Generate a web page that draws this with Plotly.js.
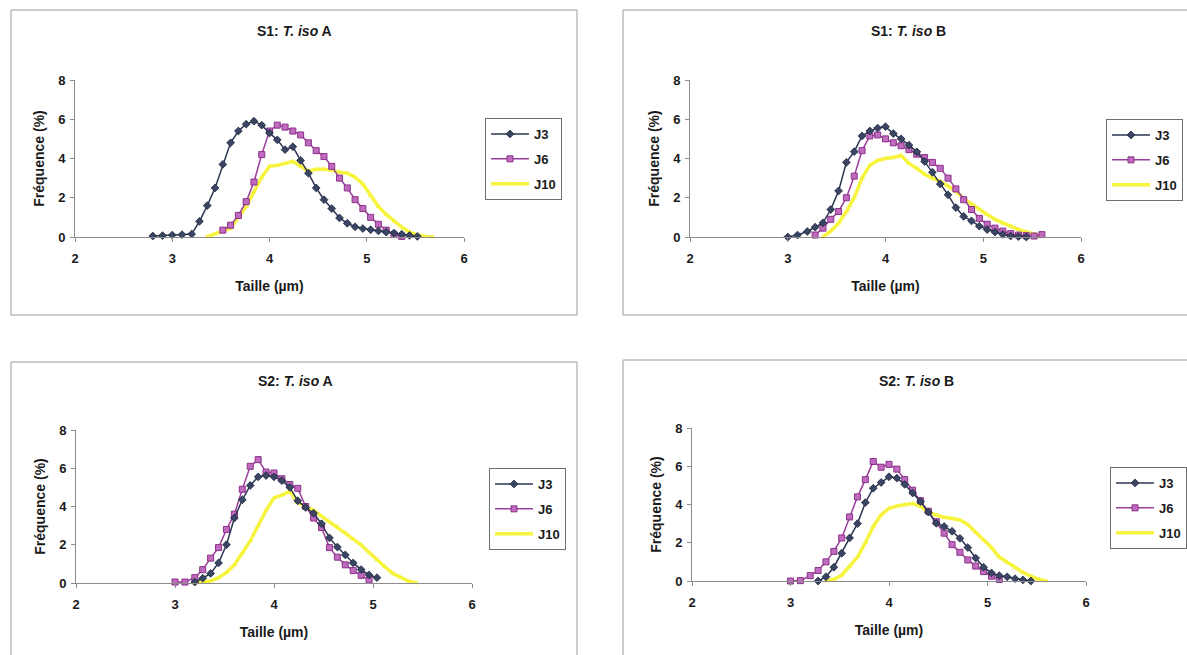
<!DOCTYPE html>
<html>
<head>
<meta charset="utf-8">
<script src="https://cdn.plot.ly/plotly-3.0.1.min.js"></script>
<style>
  html, body { margin: 0; padding: 0; background: #ffffff; }
  #chart { width: 1187px; height: 655px; }
</style>
</head>
<body>
<div id="chart"></div>
<script>
// ---- Data (size classes in µm, frequency in %) ----
const taille = [2.80, 2.90, 3.00, 3.10, 3.20, 3.28, 3.36, 3.44, 3.52, 3.60, 3.68, 3.76,
                3.84, 3.92, 4.00, 4.08, 4.16, 4.24, 4.32, 4.40, 4.48, 4.56, 4.64, 4.72,
                4.80, 4.88, 4.96, 5.04, 5.12, 5.20, 5.28, 5.36, 5.44, 5.52, 5.60, 5.68];

const seriesNames = ["J3", "J6", "J10"];
const panelTitles = ["S1: <i>T. iso</i> A", "S1: <i>T. iso</i> B", "S2: <i>T. iso</i> A", "S2: <i>T. iso</i> B"];
const xTitle = "Taille (µm)";
const yTitle = "Fréquence (%)";

// S1: T. iso A
const s1A_J3  = [0.05,0.07,0.10,0.12,0.15,0.80,1.60,2.50,3.70,4.80,5.40,5.75,5.90,5.70,5.30,4.95,4.45,4.60,3.90,3.25,2.50,1.90,1.45,0.97,0.70,0.52,0.43,0.37,0.31,0.25,0.20,0.14,0.08,0.03,null,null];
const s1A_J6  = [null,null,null,null,null,null,null,null,0.35,0.60,1.10,1.80,2.80,4.20,5.40,5.70,5.60,5.40,5.20,4.80,4.40,4.10,3.60,3.00,2.50,1.90,1.45,1.00,0.65,0.35,0.12,0.03,null,null,null,null];
const s1A_J10 = [null,null,null,null,null,null,0.02,0.15,0.30,0.45,1.00,1.55,2.30,3.05,3.60,3.65,3.75,3.85,3.60,3.35,3.45,3.45,3.40,3.30,3.25,3.05,2.70,2.10,1.55,1.15,0.80,0.50,0.25,0.10,0.03,0.00];

// S1: T. iso B
const s1B_J3  = [null,null,0.00,0.10,0.28,0.50,0.72,1.40,2.35,3.80,4.35,5.15,5.40,5.55,5.62,5.27,5.00,4.68,4.34,3.85,3.30,2.70,2.15,1.50,1.05,0.82,0.55,0.38,0.25,0.13,0.05,0.02,0.00,null,null,null];
const s1B_J6  = [null,null,null,null,null,0.10,0.45,0.90,1.30,2.00,3.10,4.40,5.15,5.20,5.00,4.80,4.65,4.45,4.22,4.05,3.80,3.50,3.00,2.45,1.90,1.40,0.95,0.65,0.45,0.30,0.17,0.10,0.07,0.05,0.12,null];
const s1B_J10 = [null,null,null,null,null,null,0.00,0.30,0.70,1.30,2.00,3.00,3.65,3.90,4.00,4.05,4.15,3.75,3.50,3.20,3.00,2.83,2.60,2.32,1.96,1.68,1.40,1.15,0.90,0.70,0.55,0.38,0.25,0.15,0.05,null];

// S2: T. iso A
const s2A_J3  = [null,null,null,null,0.05,0.25,0.50,1.05,2.00,3.40,4.35,5.10,5.55,5.62,5.55,5.35,5.00,4.30,3.95,3.65,3.10,2.36,1.88,1.47,1.05,0.70,0.42,0.28,null,null,null,null,null,null,null,null];
const s2A_J6  = [null,null,0.05,0.05,0.28,0.70,1.30,1.85,2.80,3.60,4.90,6.10,6.45,5.80,5.75,5.45,5.15,4.95,4.00,3.40,2.90,1.85,1.35,0.95,0.65,0.40,0.15,null,null,null,null,null,null,null,null,null];
const s2A_J10 = [null,null,null,null,0.00,0.05,0.10,0.28,0.55,0.95,1.57,2.20,3.00,3.80,4.45,4.60,4.80,4.20,4.00,3.80,3.50,3.20,2.95,2.65,2.30,2.00,1.60,1.20,0.85,0.50,0.28,0.10,0.00,null,null,null];

// S2: T. iso B
const s2B_J3  = [null,null,null,null,null,0.00,0.22,0.72,1.45,2.25,3.00,4.10,4.85,5.15,5.45,5.38,5.05,4.60,4.15,3.60,3.02,2.85,2.60,2.23,1.75,1.20,0.72,0.42,0.28,0.22,0.12,0.06,0.00,null,null,null];
const s2B_J6  = [null,null,0.00,0.02,0.28,0.55,1.00,1.55,2.25,3.35,4.40,5.30,6.25,5.95,6.10,5.85,5.30,4.75,4.20,3.65,3.10,2.50,1.90,1.50,1.10,0.78,0.49,0.25,0.08,null,null,null,null,null,null,null];
const s2B_J10 = [null,null,null,null,null,null,0.00,0.08,0.30,0.75,1.25,2.00,2.85,3.45,3.80,3.92,4.00,4.05,3.90,3.60,3.45,3.33,3.27,3.19,2.95,2.55,2.15,1.75,1.25,0.98,0.70,0.45,0.25,0.08,0.00,null];

const panelData = [
  [s1A_J3, s1A_J6, s1A_J10],
  [s1B_J3, s1B_J6, s1B_J10],
  [s2A_J3, s2A_J6, s2A_J10],
  [s2B_J3, s2B_J6, s2B_J10]
];

// ---- Layout geometry (pixels in the 1187x655 page) ----
const W = 1187, H = 655;
const PX = v => v / W;
const PY = v => 1 - v / H;

const panels = [
  { xd: [75, 464],  yd: [80, 237],  box: [11, 10, 577, 315],   title: [294, 31],  leg: [485, 118] },
  { xd: [690, 1081], yd: [80, 237], box: [623, 10, 1200, 315], title: [908, 31],  leg: [1106, 119] },
  { xd: [76, 472],  yd: [430, 583], box: [11, 362, 577, 700],  title: [295, 381], leg: [489, 468] },
  { xd: [692, 1086], yd: [428, 581], box: [623, 360, 1200, 700], title: [916, 381], leg: [1110, 467] }
];

const styles = [
  { line: { color: "#2c3552", width: 1.5 }, marker: { symbol: "diamond", size: 6, color: "#3a4463", line: { color: "#1f2740", width: 0.8 } } },
  { line: { color: "#9a3d9a", width: 1.5 }, marker: { symbol: "square", size: 6, color: "#c06ac0", line: { color: "#8a328a", width: 1 } } },
  { line: { color: "#f6f43e", width: 3.5 }, marker: { symbol: "triangle-up", size: 5, color: "#f6f43e", line: { width: 0 } } }
];

const fontFam = "Liberation Sans, Arial, sans-serif";
const traces = [];
const layout = {
  width: W, height: H,
  margin: { l: 0, r: 0, t: 0, b: 0 },
  paper_bgcolor: "#ffffff",
  plot_bgcolor: "rgba(0,0,0,0)",
  font: { family: fontFam, color: "#1a1a1a", size: 13 },
  shapes: [],
  annotations: []
};

panels.forEach((p, i) => {
  const n = i + 1;
  const xa = n === 1 ? "x" : "x" + n;
  const ya = n === 1 ? "y" : "y" + n;
  const xkey = n === 1 ? "xaxis" : "xaxis" + n;
  const ykey = n === 1 ? "yaxis" : "yaxis" + n;
  const legKey = n === 1 ? "legend" : "legend" + n;

  // draw J10 first, then J6, then J3 on top; legend order via legendrank
  [2, 1, 0].forEach(s => {
    traces.push({
      type: "scatter", mode: "lines+markers",
      x: taille, y: panelData[i][s],
      name: seriesNames[s],
      xaxis: xa, yaxis: ya,
      legend: legKey,
      legendgroup: "p" + n + seriesNames[s],
      legendrank: s + 1,
      line: styles[s].line,
      marker: styles[s].marker,
      cliponaxis: false,
      connectgaps: false,
      hoverinfo: "x+y+name"
    });
  });

  layout[xkey] = {
    domain: [PX(p.xd[0]), PX(p.xd[1])],
    anchor: ya,
    range: [2, 6], dtick: 1, tick0: 2,
    showgrid: false, zeroline: false,
    showline: true, linecolor: "#8c8c8c", linewidth: 1,
    ticks: "outside", ticklen: 4, tickcolor: "#8c8c8c",
    ticklabelstandoff: 5,
    tickfont: { size: 13, weight: "bold", family: fontFam, color: "#1a1a1a" },
    title: { text: xTitle, font: { size: 14, weight: "bold", family: fontFam, color: "#1a1a1a" }, standoff: 16 },
    fixedrange: true
  };
  layout[ykey] = {
    domain: [PY(p.yd[1]), PY(p.yd[0])],
    anchor: xa,
    range: [0, 8], dtick: 2, tick0: 0,
    showgrid: false, zeroline: false,
    showline: true, linecolor: "#8c8c8c", linewidth: 1,
    ticks: "outside", ticklen: 4, tickcolor: "#8c8c8c",
    ticklabelstandoff: 2,
    tickfont: { size: 13, weight: "bold", family: fontFam, color: "#1a1a1a" },
    title: { text: yTitle, font: { size: 14, weight: "bold", family: fontFam, color: "#1a1a1a" }, standoff: 10 },
    fixedrange: true
  };

  layout[legKey] = {
    x: PX(p.leg[0]), y: PY(p.leg[1]),
    xanchor: "left", yanchor: "top",
    xref: "paper", yref: "paper",
    bgcolor: "#ffffff",
    bordercolor: "#6f6f6f", borderwidth: 1,
    traceorder: "grouped",
    tracegroupgap: 5,
    itemwidth: 38,
    font: { size: 13, weight: "bold", family: fontFam, color: "#1a1a1a" },
    itemclick: false, itemdoubleclick: false
  };

  layout.shapes.push({
    type: "rect", xref: "paper", yref: "paper",
    x0: PX(p.box[0]), x1: PX(p.box[2]), y0: PY(p.box[3]), y1: PY(p.box[1]),
    line: { color: "#9a9a9a", width: 1 }, fillcolor: "rgba(0,0,0,0)", layer: "below"
  });

  layout.annotations.push({
    xref: "paper", yref: "paper",
    x: PX(p.title[0]), y: PY(p.title[1]),
    xanchor: "center", yanchor: "middle",
    text: "<b>" + panelTitles[i] + "</b>",
    showarrow: false,
    font: { size: 14, family: fontFam, color: "#1a1a1a" }
  });
});

Plotly.newPlot("chart", traces, layout, { displayModeBar: false, staticPlot: true });
</script>
</body>
</html>
